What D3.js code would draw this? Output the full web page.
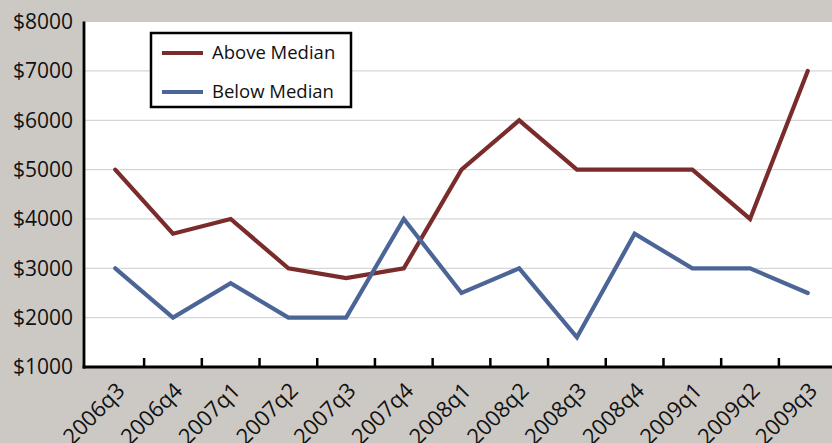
<!DOCTYPE html>
<html>
<head>
<meta charset="utf-8">
<script src="https://cdn.jsdelivr.net/npm/d3@7/dist/d3.min.js"></script>
<style>
  html, body { margin: 0; padding: 0; background: #ccc9c4; }
  svg { display: block; }
  text { font-family: "Open Sans", "Noto Sans", sans-serif; fill: #111; }
</style>
</head>
<body>
<svg id="chart" width="832" height="443"></svg>
<script>
// Quarterly values, two groups
const quarters = ["2006q3", "2006q4", "2007q1", "2007q2", "2007q3", "2007q4",
                  "2008q1", "2008q2", "2008q3", "2008q4", "2009q1", "2009q2", "2009q3"];
const aboveMedian = [5000, 3700, 4000, 3000, 2800, 3000, 5000, 6000, 5000, 5000, 5000, 4000, 7000];
const belowMedian = [3000, 2000, 2700, 2000, 2000, 4000, 2500, 3000, 1600, 3700, 3000, 3000, 2500];
const yTicks = [1000, 2000, 3000, 4000, 5000, 6000, 7000, 8000];
const seriesNames = ["Above Median", "Below Median"];
const seriesColors = ["#7a2b2b", "#4c6597"];

const svg = d3.select("#chart");
const plot = { left: 85, top: 22, right: 832, bottom: 367 };

const x = d3.scaleBand().domain(quarters).range([86.4, 836.6]);
const y = d3.scaleLinear().domain([1000, 8000]).range([367, 21.6]);

// plot background
svg.append("rect")
  .attr("x", plot.left).attr("y", plot.top)
  .attr("width", plot.right - plot.left).attr("height", plot.bottom - plot.top)
  .attr("fill", "#fff");

// horizontal gridlines
svg.append("g").selectAll("line")
  .data(yTicks.filter(v => v > 1000 && v < 8000))
  .join("line")
  .attr("x1", plot.left).attr("x2", plot.right)
  .attr("y1", d => y(d)).attr("y2", d => y(d))
  .attr("stroke", "#d6d6d6").attr("stroke-width", 1.2);

// y-axis labels
svg.append("g").selectAll("text")
  .data(yTicks)
  .join("text")
  .attr("x", 73).attr("y", d => y(d))
  .attr("dy", "0.35em")
  .attr("text-anchor", "end")
  .attr("font-size", 21)
  .text(d => "$" + d);

// series lines
const line = d3.line()
  .x((d, i) => x(quarters[i]) + x.bandwidth() / 2)
  .y(d => y(d));

svg.append("clipPath").attr("id", "plotClip")
  .append("rect").attr("x", plot.left).attr("y", 0)
  .attr("width", plot.right - plot.left).attr("height", plot.bottom);

[aboveMedian, belowMedian].forEach((vals, k) => {
  svg.append("path")
    .datum(vals)
    .attr("d", line)
    .attr("fill", "none")
    .attr("stroke", seriesColors[k])
    .attr("stroke-width", 4.2)
    .attr("stroke-linejoin", "miter")
    .attr("stroke-linecap", "round")
    .attr("clip-path", "url(#plotClip)");
});

// x tick marks at band boundaries, pointing up into the plot
const boundaries = quarters.slice(1).map(q => x(q));
svg.append("g").selectAll("line")
  .data(boundaries)
  .join("line")
  .attr("x1", d => d).attr("x2", d => d)
  .attr("y1", plot.bottom).attr("y2", plot.bottom - 9)
  .attr("stroke", "#000").attr("stroke-width", 2.5);

// axis lines
svg.append("line")
  .attr("x1", plot.left - 1).attr("x2", plot.left - 1)
  .attr("y1", plot.top - 0.5).attr("y2", plot.bottom + 1.5)
  .attr("stroke", "#000").attr("stroke-width", 2.8);
svg.append("line")
  .attr("x1", plot.left - 2.4).attr("x2", plot.right)
  .attr("y1", plot.bottom).attr("y2", plot.bottom)
  .attr("stroke", "#000").attr("stroke-width", 2.8);

// x-axis labels, rotated
svg.append("g").selectAll("text")
  .data(quarters)
  .join("text")
  .attr("transform", d => `translate(${x(d) + x.bandwidth() / 2 + 11},${plot.bottom + 25}) rotate(-45)`)
  .attr("text-anchor", "end")
  .attr("font-size", 22)
  .text(d => d);

// legend
const legend = svg.append("g");
legend.append("rect")
  .attr("x", 151).attr("y", 33).attr("width", 200).attr("height", 74)
  .attr("fill", "#fff").attr("stroke", "#000").attr("stroke-width", 2.5);
seriesNames.forEach((name, k) => {
  const ly = 53 + k * 39;
  legend.append("line")
    .attr("x1", 162).attr("x2", 203).attr("y1", ly).attr("y2", ly)
    .attr("stroke", seriesColors[k]).attr("stroke-width", 4);
  legend.append("text")
    .attr("x", 212).attr("y", ly).attr("dy", "0.35em")
    .attr("font-size", 18.5)
    .text(name);
});
</script>
</body>
</html>
